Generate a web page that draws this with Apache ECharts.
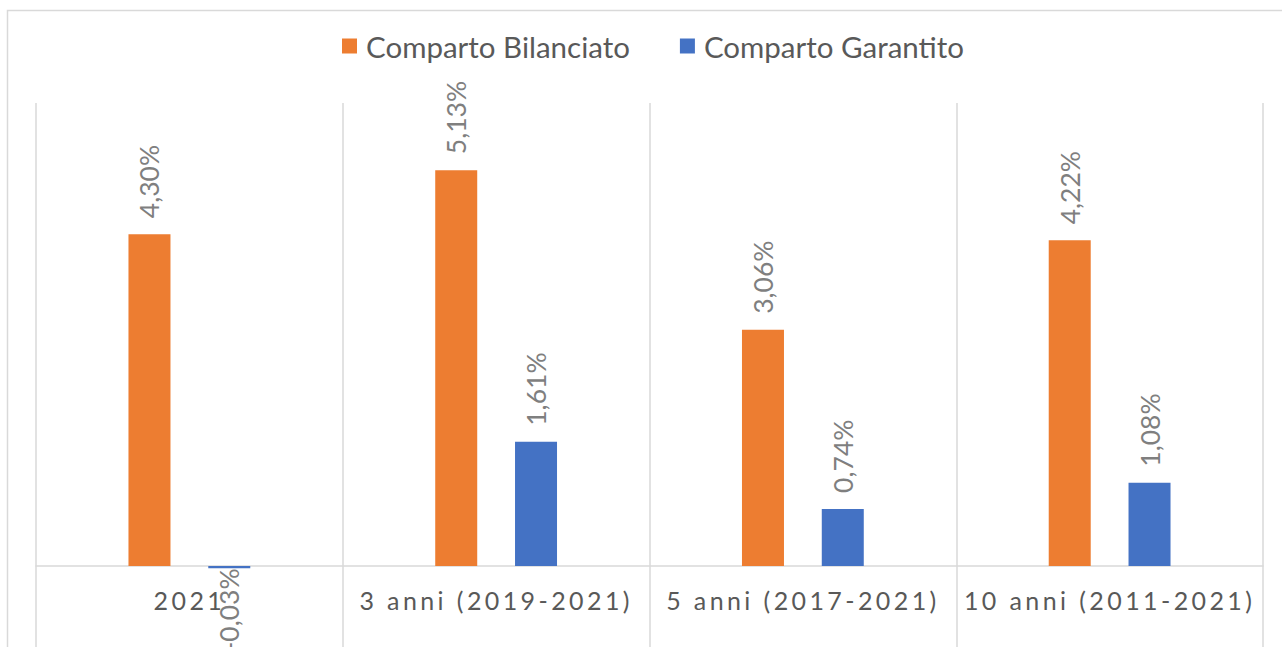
<!DOCTYPE html>
<html>
<head>
<meta charset="utf-8">
<script src="https://cdn.jsdelivr.net/npm/echarts@6/dist/echarts.min.js"></script>
<style>
  html, body { margin: 0; padding: 0; background: #fff; }
  #chart { width: 1282px; height: 647px; }
</style>
</head>
<body>
<div id="chart"></div>
<script>
const categories = ['2021', '3 anni (2019-2021)', '5 anni (2017-2021)', '10 anni (2011-2021)'];
const bilanciato = [4.30, 5.13, 3.06, 4.22];
const garantito = [-0.03, 1.61, 0.74, 1.08];
const seriesNames = ['Comparto Bilanciato', 'Comparto Garantito'];

const fmt = p => p.value.toFixed(2).replace('.', ',') + '%';

const labelPos = {
  show: true, rotate: 90, position: 'top', align: 'left', verticalAlign: 'middle',
  distance: 16, formatter: fmt, color: '#7f7f7f', fontSize: 26.5, fontFamily: 'Lato'
};
const labelNeg = {
  show: true, rotate: 90, position: 'bottom', align: 'right', verticalAlign: 'middle',
  distance: 0, formatter: fmt, color: '#7f7f7f', fontSize: 26.5, fontFamily: 'Lato'
};
const toData = arr => arr.map(v => ({ value: v, label: v < 0 ? labelNeg : labelPos }));

const chart = echarts.init(document.getElementById('chart'), null, { renderer: 'svg' });
chart.setOption({
  animation: false,
  color: ['#ED7D31', '#4472C4'],
  graphic: [{
    type: 'rect', silent: true,
    shape: { x: 7.5, y: 10.5, width: 1300, height: 700 },
    style: { fill: 'none', stroke: '#d9d9d9', lineWidth: 1.5 }
  }],
  legend: {
    top: 26, left: 337,
    icon: 'rect', itemWidth: 15, itemHeight: 15, itemGap: 50,
    textStyle: { color: '#595959', fontSize: 29.5, fontFamily: 'Lato', padding: [0, 0, 0, 4] },
    data: seriesNames
  },
  grid: { left: 36, right: 19, top: 103, bottom: 0, outerBoundsMode: 'none', containLabel: false },
  xAxis: {
    type: 'category', data: categories, position: 'bottom', offset: -81,
    axisLine: { onZero: false, lineStyle: { color: '#d9d9d9', width: 1.5 } },
    axisTick: { show: false },
    axisLabel: { interval: 0, margin: 21, color: '#595958', fontSize: 25, fontFamily: 'Lato' },
    splitLine: { show: true, interval: 0, lineStyle: { color: '#d9d9d9', width: 1.5 } }
  },
  yAxis: {
    type: 'value', min: -1.05, max: 6,
    axisLine: { show: false }, axisTick: { show: false },
    axisLabel: { show: false }, splitLine: { show: false }
  },
  series: [
    { name: seriesNames[0], type: 'bar', barWidth: 42, barGap: '90%', data: toData(bilanciato) },
    { name: seriesNames[1], type: 'bar', barWidth: 42, data: toData(garantito) }
  ]
});

// spaced-out category labels, as in the original
function spaceLabels() {
  document.querySelectorAll('#chart text').forEach(t => {
    if (categories.includes(t.textContent)) t.style.letterSpacing = '3.4px';
  });
}
chart.on('finished', spaceLabels);
spaceLabels();
</script>
</body>
</html>
